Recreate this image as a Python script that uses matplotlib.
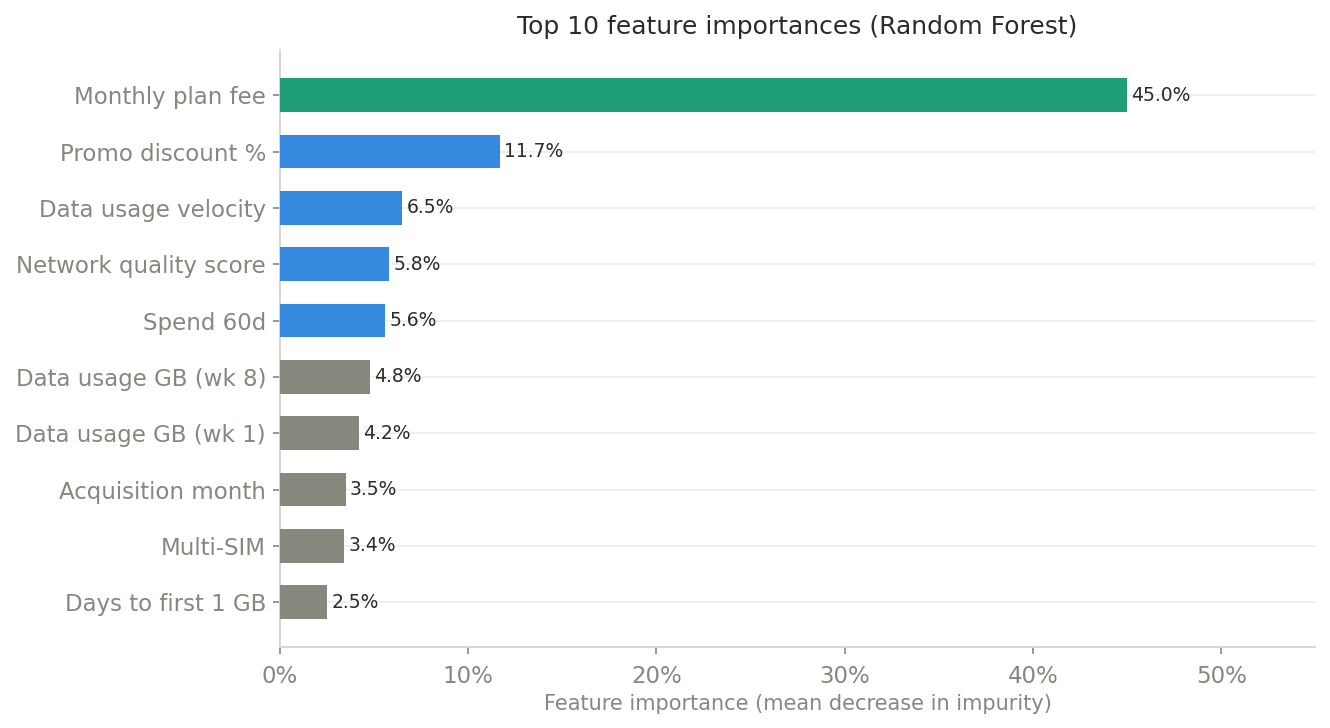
import matplotlib
matplotlib.use("Agg")
from matplotlib import pyplot as plt
from matplotlib.ticker import FuncFormatter

# data, top feature first
features = ["Monthly plan fee", "Promo discount %", "Data usage velocity",
            "Network quality score", "Spend 60d", "Data usage GB (wk 8)",
            "Data usage GB (wk 1)", "Acquisition month", "Multi-SIM",
            "Days to first 1 GB"]
importance = [45.0, 11.7, 6.5, 5.8, 5.6, 4.8, 4.2, 3.5, 3.4, 2.5]
groups = ["top", "mid", "mid", "mid", "mid", "low", "low", "low", "low", "low"]

colors = {"top": "#1f9e77", "mid": "#3589de", "low": "#87877e"}
grey = "#87877e"

fig, ax = plt.subplots(figsize=(13.3, 7.28), dpi=100)
fig.subplots_adjust(left=0.2105, right=0.989, top=0.931, bottom=0.111)

ypos = list(range(len(features)))
ax.barh(ypos, importance, height=0.6, color=[colors[g] for g in groups], zorder=3)

for y, v in zip(ypos, importance):
    ax.text(v + 0.22, y, f"{v:.1f}%", va="center", ha="left", fontsize=13.5, color="#2b2b2b")

ax.set_yticks(ypos)
ax.set_yticklabels(features)
ax.set_ylim(len(features) - 0.2, -0.8)
ax.set_xlim(0, 55)
ax.set_xticks([0, 10, 20, 30, 40, 50])
ax.xaxis.set_major_formatter(FuncFormatter(lambda x, p: f"{x:.0f}%"))

ax.grid(axis="y", color="#eeeee9", linewidth=1.3, zorder=0)
ax.grid(axis="x", visible=False)
for s in ["top", "right"]:
    ax.spines[s].set_visible(False)
for s in ["left", "bottom"]:
    ax.spines[s].set_color("#d6d3cd")
    ax.spines[s].set_linewidth(1.3)

ax.tick_params(axis="both", colors=grey, labelsize=16.5, length=5, width=1.2)
ax.tick_params(axis="y", pad=5)
ax.tick_params(axis="x", pad=7.5)
ax.set_xlabel("Feature importance (mean decrease in impurity)", fontsize=15, color=grey, labelpad=5)
ax.set_title("Top 10 feature importances (Random Forest)", fontsize=18, color="#2b2b2b", pad=12)

fig.savefig("out.png", dpi=100)
